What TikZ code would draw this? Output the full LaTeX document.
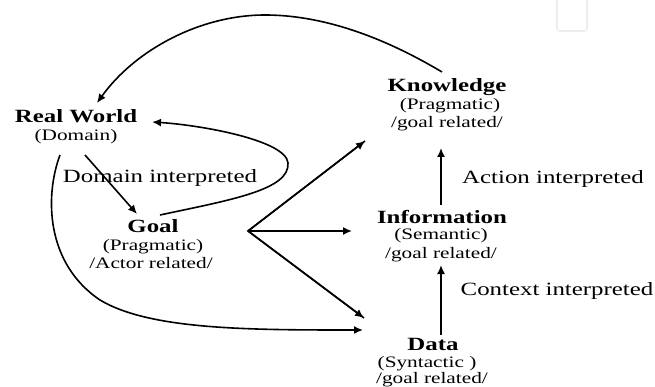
\documentclass[tikz,border=0pt]{standalone}
\usepackage{fontspec}
\setmainfont[FakeStretch=1.33]{Liberation Serif}
\usetikzlibrary{arrows.meta}
\tikzset{
  big/.style={anchor=base, inner sep=0pt, font=\fontsize{18.7}{20}\selectfont\bfseries},
  lab/.style={anchor=base, inner sep=0pt, font=\fontsize{18.7}{20}\selectfont},
  small/.style={anchor=base, inner sep=0pt, font=\fontsize{16}{18}\selectfont},
  conn/.style={line width=1.6pt, -{Latex[length=9pt,width=8pt]}},
  plain/.style={line width=1.6pt}
}
\begin{document}
\begin{tikzpicture}[x=1pt,y=-1pt]
\useasboundingbox (0,0) rectangle (655,387);
% faint box at top right
\draw[line width=1.6pt, draw=black!7, rounded corners=3pt] (557,-5) -- (557,31) -- (587,31) -- (587,-5);

% nodes
\node[big] (rw) at (76,123) {Real World};
\node[small] (rwd) at (76,141) {(Domain)};
\node[big] (goal) at (153,233) {Goal};
\node[small] (goalp) at (153,250) {(Pragmatic)};
\node[small] (goala) at (151,268) {/Actor related/};
\node[big] (kn) at (447,92) {Knowledge};
\node[small] (knp) at (450,110) {(Pragmatic)};
\node[small] (kng) at (447,128) {/goal related/};
\node[big] (inf) at (442,223) {Information};
\node[small] (infs) at (441,240) {(Semantic)};
\node[small] (infg) at (441,258) {/goal related/};
\node[big] (data) at (433,350) {Data};
\node[small] (datas) at (427,367) {(Syntactic )};
\node[small] (datag) at (432,383) {/goal related/};
\node[lab] (dom) at (160,183) {Domain interpreted};
\node[lab] (act) at (553,184) {Action interpreted};
\node[lab] (ctx) at (557,295) {Context interpreted};

% connector end points
\coordinate (knTop) at (442,72);
\coordinate (rwTop) at (97,103);
\coordinate (rwBotL) at (60,155);
\coordinate (rwBotR) at (85,155);
\coordinate (rwRight) at (152,122);
\coordinate (goalTop) at (137,214);
\coordinate (goalStart) at (160,215);
\coordinate (fan) at (248,231);
\coordinate (knIn) at (365,141);
\coordinate (infIn) at (352,231);
\coordinate (dataIn) at (364,318);
\coordinate (dataIn2) at (363,330);
\coordinate (infTop) at (441,205);
\coordinate (kngBot) at (441,148);
\coordinate (dataTop) at (441,335);
\coordinate (infgBot) at (441,265);

% connectors
\draw[conn] (knTop) .. controls (380,35) and (320,15) .. (265,15)
   .. controls (200,15) and (135,50) .. (rwTop);
\draw[conn] (rwBotR) -- (goalTop);
\draw[conn] (goalStart) .. controls (230,200) and (290,190) .. (288,163)
   .. controls (286,140) and (200,125) .. (rwRight);
\draw[conn] (rwBotL) .. controls (45,195) and (45,263) .. (100,300)
   .. controls (150,330) and (250,330) .. (dataIn2);
\draw[plain] (knIn) -- (fan) -- (dataIn);
\draw[conn] (fan) -- (knIn);
\draw[conn] (fan) -- (infIn);
\draw[conn] (fan) -- (dataIn);
\draw[conn] (infTop) -- (kngBot);
\draw[conn] (dataTop) -- (infgBot);
\end{tikzpicture}
\end{document}
